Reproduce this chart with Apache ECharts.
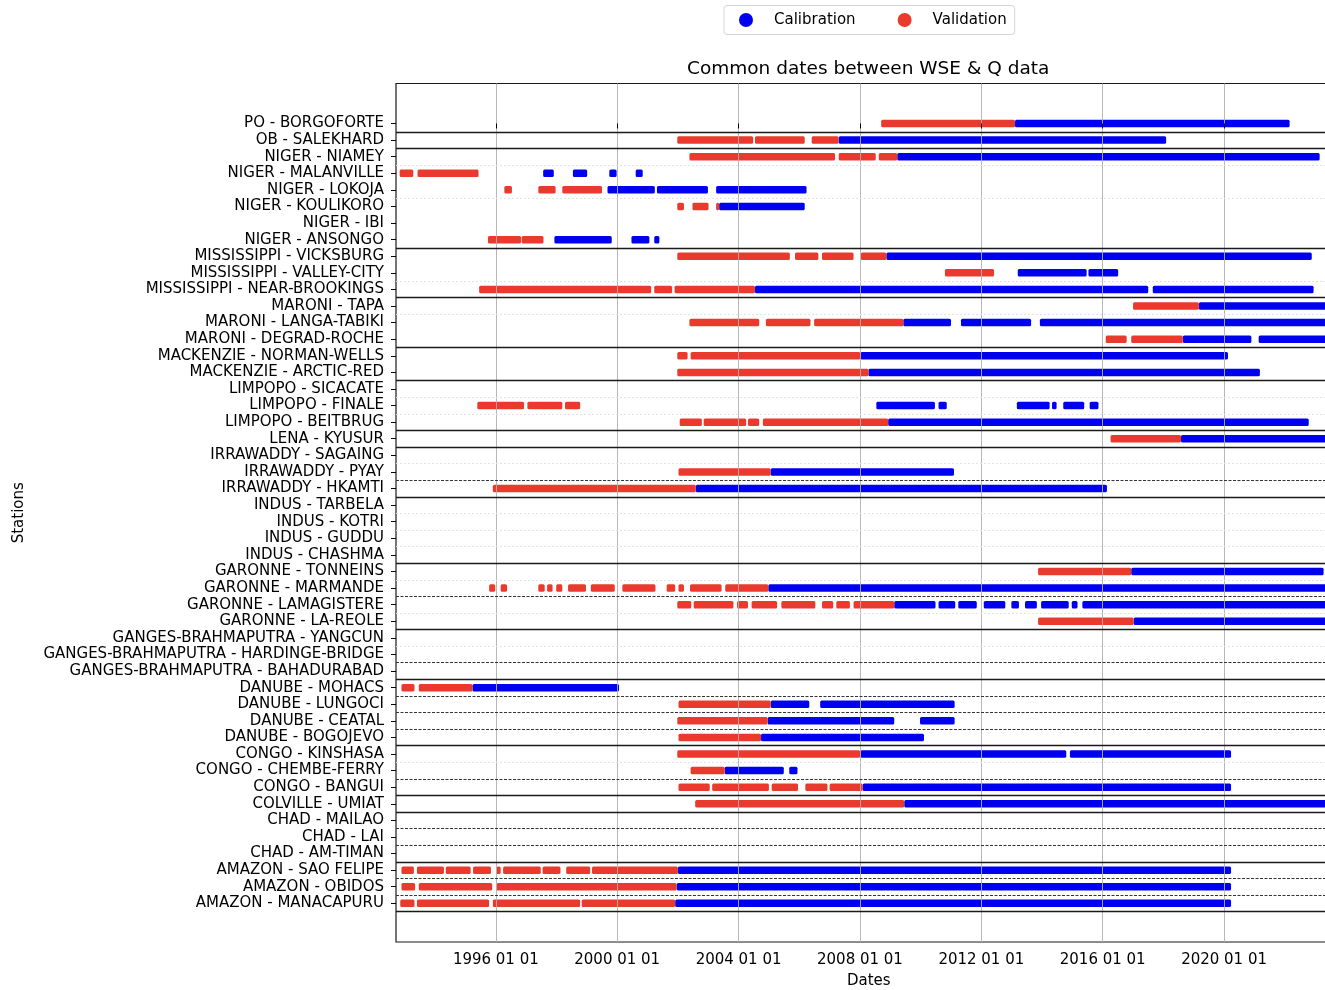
<!DOCTYPE html>
<html>
<head>
<meta charset="utf-8">
<script src="https://cdn.jsdelivr.net/npm/echarts@6/dist/echarts.min.js"></script>
<style>
html,body{margin:0;padding:0;background:#fff;}
#chart{width:1325px;height:990px;}
</style>
</head>
<body>
<div id="chart"></div>
<script>
// Stations, top to bottom
const stations = [
  'PO - BORGOFORTE', 'OB - SALEKHARD',
  'NIGER - NIAMEY', 'NIGER - MALANVILLE', 'NIGER - LOKOJA', 'NIGER - KOULIKORO', 'NIGER - IBI', 'NIGER - ANSONGO',
  'MISSISSIPPI - VICKSBURG', 'MISSISSIPPI - VALLEY-CITY', 'MISSISSIPPI - NEAR-BROOKINGS',
  'MARONI - TAPA', 'MARONI - LANGA-TABIKI', 'MARONI - DEGRAD-ROCHE',
  'MACKENZIE - NORMAN-WELLS', 'MACKENZIE - ARCTIC-RED',
  'LIMPOPO - SICACATE', 'LIMPOPO - FINALE', 'LIMPOPO - BEITBRUG',
  'LENA - KYUSUR',
  'IRRAWADDY - SAGAING', 'IRRAWADDY - PYAY', 'IRRAWADDY - HKAMTI',
  'INDUS - TARBELA', 'INDUS - KOTRI', 'INDUS - GUDDU', 'INDUS - CHASHMA',
  'GARONNE - TONNEINS', 'GARONNE - MARMANDE', 'GARONNE - LAMAGISTERE', 'GARONNE - LA-REOLE',
  'GANGES-BRAHMAPUTRA - YANGCUN', 'GANGES-BRAHMAPUTRA - HARDINGE-BRIDGE', 'GANGES-BRAHMAPUTRA - BAHADURABAD',
  'DANUBE - MOHACS', 'DANUBE - LUNGOCI', 'DANUBE - CEATAL', 'DANUBE - BOGOJEVO',
  'CONGO - KINSHASA', 'CONGO - CHEMBE-FERRY', 'CONGO - BANGUI',
  'COLVILLE - UMIAT',
  'CHAD - MAILAO', 'CHAD - LAI', 'CHAD - AM-TIMAN',
  'AMAZON - SAO FELIPE', 'AMAZON - OBIDOS', 'AMAZON - MANACAPURU'
];

// Separator drawn below station i (between station i and i+1)
const separators = [
  'solid', 'solid', 'light', 'none', 'light', 'none', 'none', 'solid',
  'none', 'light', 'solid',
  'light', 'none', 'solid',
  'none', 'solid',
  'light', 'light', 'solid',
  'solid',
  'light', 'dark', 'solid',
  'light', 'light', 'light', 'solid',
  'light', 'dark', 'light', 'solid',
  'light', 'dark', 'solid',
  'dark', 'dark', 'dark', 'solid',
  'light', 'dark', 'solid',
  'solid',
  'dark', 'dark', 'solid',
  'dark', 'dark', 'solid'
];

// x axis (decimal years)
const xTickYears = [1996, 2000, 2004, 2008, 2012, 2016, 2020];
const xRange = [1992.71, 2023.87];

// Validation periods: [station index, start year, end year]
const validation = [
  [0, 2008.70, 2013.11],
  [1, 2001.98, 2004.48], [1, 2004.54, 2006.18], [1, 2006.41, 2007.30],
  [2, 2002.38, 2007.18], [2, 2007.30, 2008.52], [2, 2008.62, 2009.23],
  [3, 1992.83, 1993.28], [3, 1993.42, 1995.43],
  [4, 1996.28, 1996.53], [4, 1997.40, 1997.97], [4, 1998.19, 1999.50],
  [5, 2001.98, 2002.20], [5, 2002.48, 2003.01], [5, 2003.26, 2003.36],
  [7, 1995.74, 1996.83], [7, 1996.85, 1997.57],
  [8, 2001.98, 2005.69], [8, 2005.86, 2006.63], [8, 2006.75, 2007.79], [8, 2008.03, 2008.87],
  [9, 2010.80, 2012.42],
  [10, 1995.45, 2001.12], [10, 2001.22, 2001.81], [10, 2001.89, 2004.54],
  [11, 2017.00, 2019.17],
  [12, 2002.38, 2004.68], [12, 2004.90, 2006.37], [12, 2006.49, 2009.43],
  [13, 2016.10, 2016.79], [13, 2016.94, 2018.64],
  [14, 2001.98, 2002.32], [14, 2002.42, 2008.01],
  [15, 2001.98, 2008.28],
  [17, 1995.39, 1996.93], [17, 1997.04, 1998.19], [17, 1998.28, 1998.78],
  [18, 2002.06, 2002.79], [18, 2002.85, 2004.25], [18, 2004.31, 2004.68], [18, 2004.80, 2008.93],
  [19, 2016.26, 2018.58],
  [21, 2002.02, 2005.06],
  [22, 1995.90, 2002.59],
  [27, 2013.87, 2016.94],
  [28, 1995.78, 1995.98], [28, 1996.16, 1996.37], [28, 1997.40, 1997.61], [28, 1997.69, 1997.87],
  [28, 1997.99, 1998.19], [28, 1998.38, 1998.97], [28, 1999.13, 1999.92], [28, 2000.17, 2001.26],
  [28, 2001.63, 2001.91], [28, 2002.02, 2002.20], [28, 2002.40, 2003.44], [28, 2003.56, 2004.98],
  [29, 2001.98, 2002.44], [29, 2002.52, 2003.83], [29, 2003.95, 2004.31], [29, 2004.43, 2005.27],
  [29, 2005.41, 2006.53], [29, 2006.75, 2007.12], [29, 2007.22, 2007.67], [29, 2007.79, 2009.13],
  [30, 2013.87, 2017.02],
  [34, 1992.89, 1993.32], [34, 1993.46, 1995.23],
  [35, 2002.02, 2005.06],
  [36, 2001.98, 2004.96],
  [37, 2002.02, 2004.74],
  [38, 2001.98, 2008.01],
  [39, 2002.42, 2003.54],
  [40, 2002.02, 2003.05], [40, 2003.13, 2005.00], [40, 2005.09, 2005.96], [40, 2006.20, 2006.93], [40, 2007.00, 2008.09],
  [41, 2002.57, 2009.46],
  [45, 1992.89, 1993.30], [45, 1993.40, 1994.29], [45, 1994.35, 1995.17], [45, 1995.25, 1995.84],
  [45, 1996.02, 1996.16], [45, 1996.24, 1997.48], [45, 1997.54, 1998.13], [45, 1998.32, 1999.11], [45, 1999.17, 2002.00],
  [46, 1992.89, 1993.34], [46, 1993.46, 1995.88], [46, 1996.02, 2001.96],
  [47, 1992.85, 1993.32], [47, 1993.40, 1995.78], [47, 1995.90, 1998.78], [47, 1998.83, 2001.91]
];

// Calibration periods: [station index, start year, end year]
const calibration = [
  [0, 2013.11, 2022.16],
  [1, 2007.30, 2018.09],
  [2, 2009.23, 2023.15],
  [3, 1997.56, 1997.91], [3, 1998.54, 1999.01], [3, 1999.74, 1999.98], [3, 2000.61, 2000.84],
  [4, 1999.68, 2001.24], [4, 2001.31, 2002.99], [4, 2003.26, 2006.24],
  [5, 2003.36, 2006.18],
  [7, 1997.93, 1999.82], [7, 2000.47, 2001.06], [7, 2001.22, 2001.39],
  [8, 2008.87, 2022.89],
  [9, 2013.20, 2015.47], [9, 2015.53, 2016.51],
  [10, 2004.54, 2017.50], [10, 2017.65, 2022.95],
  [11, 2019.17, 2023.60],
  [12, 2009.43, 2011.00], [12, 2011.33, 2013.64], [12, 2013.93, 2023.60],
  [13, 2018.64, 2020.90], [13, 2021.14, 2023.60],
  [14, 2008.01, 2020.13],
  [15, 2008.28, 2021.18],
  [17, 2008.54, 2010.47], [17, 2010.59, 2010.86], [17, 2013.17, 2014.25], [17, 2014.33, 2014.48],
  [17, 2014.70, 2015.39], [17, 2015.57, 2015.86],
  [18, 2008.93, 2022.79],
  [19, 2018.58, 2023.60],
  [21, 2005.06, 2011.10],
  [22, 2002.59, 2016.14],
  [27, 2016.94, 2023.28],
  [28, 2004.98, 2023.60],
  [29, 2009.13, 2010.49], [29, 2010.59, 2011.14], [29, 2011.24, 2011.85], [29, 2012.08, 2012.79],
  [29, 2012.99, 2013.24], [29, 2013.44, 2013.83], [29, 2013.97, 2014.88], [29, 2014.98, 2015.17], [29, 2015.33, 2023.60],
  [30, 2017.02, 2023.60],
  [34, 1995.23, 2000.06],
  [35, 2005.06, 2006.33], [35, 2006.69, 2011.12],
  [36, 2004.96, 2009.13], [36, 2009.98, 2011.12],
  [37, 2004.74, 2010.11],
  [38, 2008.01, 2014.80], [38, 2014.92, 2020.23],
  [39, 2003.54, 2005.49], [39, 2005.67, 2005.94],
  [40, 2008.09, 2020.23],
  [41, 2009.46, 2023.60],
  [45, 2002.00, 2020.23],
  [46, 2001.96, 2020.23],
  [47, 2001.91, 2020.23]
];

const FONT = 'DejaVu Sans';
const BAR_H = 7.5;
const COLORS = { calibration: '#0000f0', validation: '#ea3a2d' };
const SEP_STYLES = {
  solid: { color: '#1a1a1a', width: 1.4, type: 'solid' },
  dark:  { color: '#333333', width: 1, type: [3, 1.5] },
  light: { color: '#e2e2e2', width: 1, type: [2, 2] }
};

function renderSegment(params, api) {
  const y = api.value(0);
  const p0 = api.coord([api.value(1), y]);
  const p1 = api.coord([api.value(2), y]);
  const cs = params.coordSys;
  const shape = echarts.graphic.clipRectByRect(
    { x: p0[0], y: p0[1] - BAR_H / 2, width: p1[0] - p0[0], height: BAR_H },
    { x: cs.x, y: cs.y, width: cs.width, height: cs.height }
  );
  if (!shape) return;
  shape.r = 1.5;
  return { type: 'rect', shape: shape, style: api.style() };
}

const stationIdx = stations.map((_, i) => i);

const sepData = separators
  .map((t, i) => t === 'none' ? null : { yAxis: i + 0.5, lineStyle: SEP_STYLES[t] })
  .filter(Boolean);

const chart = echarts.init(document.getElementById('chart'), null, { renderer: 'canvas' });
chart.setOption({
  animation: false,
  backgroundColor: '#fff',
  textStyle: { fontFamily: FONT },
  title: {
    text: 'Common dates between WSE & Q data',
    left: 687, top: 60, padding: 0,
    textStyle: { fontSize: 18.5, fontWeight: 'normal', color: '#000', fontFamily: FONT }
  },
  legend: {
    data: ['Calibration', 'Validation'],
    left: 724, top: 5.5,
    icon: 'circle', itemWidth: 14, itemHeight: 14, itemGap: 42,
    padding: [7, 8, 7, 15],
    borderColor: '#d6d6d6', borderWidth: 1, borderRadius: 3,
    selectedMode: false,
    textStyle: { fontSize: 15, color: '#000', fontFamily: FONT, padding: [0, 0, 0, 16] }
  },
  grid: {
    left: 396, top: 83.5, width: 945.5, height: 858.5,
    outerBoundsMode: 'none', containLabel: false,
    show: true, borderColor: '#1a1a1a', borderWidth: 1.2, backgroundColor: 'transparent'
  },
  xAxis: {
    type: 'value', min: xRange[0], max: xRange[1], z: 5,
    name: 'Dates', nameLocation: 'middle', nameGap: 32,
    nameTextStyle: { fontSize: 15, color: '#000', fontFamily: FONT },
    axisLine: { show: false },
    axisTick: { show: true, customValues: xTickYears, length: 5, lineStyle: { color: '#000' } },
    axisLabel: {
      customValues: xTickYears, margin: 11, fontSize: 15, color: '#000', fontFamily: FONT,
      formatter: v => `${Math.round(v)} 01 01`
    },
    splitLine: { show: true, lineStyle: { color: 'rgba(176,176,176,0.9)', width: 1 } }
  },
  yAxis: {
    type: 'value', inverse: true, min: -2.41, max: 49.33,
    name: 'Stations', nameLocation: 'middle', nameRotate: 90, nameGap: 369,
    nameTextStyle: { fontSize: 15, color: '#000', fontFamily: FONT },
    axisLine: { show: false },
    axisTick: { show: true, customValues: stationIdx, length: 5, lineStyle: { color: '#000' } },
    axisLabel: {
      customValues: stationIdx, margin: 12, fontSize: 15, color: '#000', fontFamily: FONT,
      formatter: v => stations[Math.round(v)] || ''
    },
    splitLine: { show: false }
  },
  series: [
    {
      name: 'Calibration', type: 'custom', renderItem: renderSegment,
      itemStyle: { color: COLORS.calibration },
      encode: { x: [1, 2], y: 0 },
      data: calibration, z: 2
    },
    {
      name: 'Validation', type: 'custom', renderItem: renderSegment,
      itemStyle: { color: COLORS.validation },
      encode: { x: [1, 2], y: 0 },
      data: validation, z: 2
    },
    {
      name: 'separators', type: 'line', data: [], silent: true,
      markLine: {
        silent: true, symbol: ['none', 'none'], label: { show: false },
        animation: false, data: sepData
      }
    }
  ]
});
</script>
</body>
</html>
